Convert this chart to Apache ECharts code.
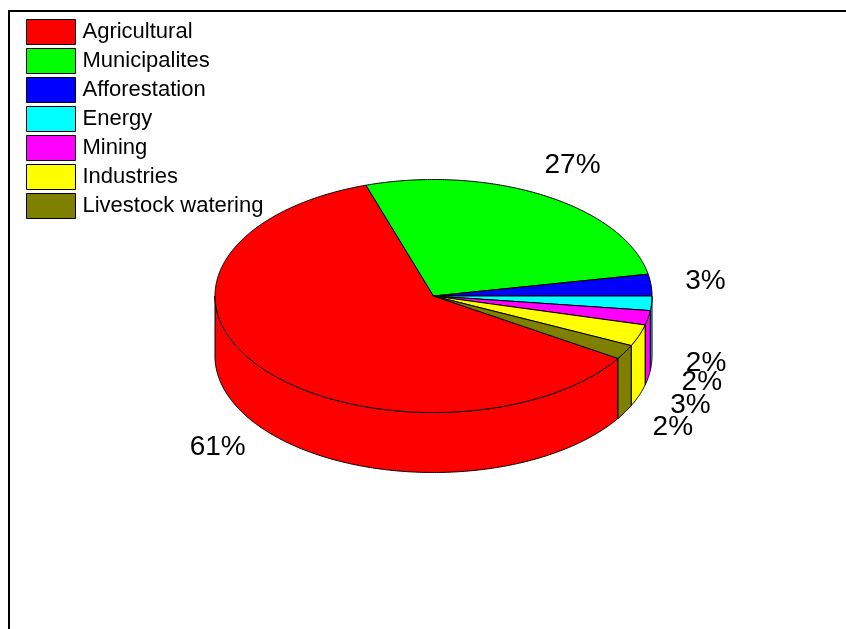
<!DOCTYPE html>
<html>
<head>
<meta charset="utf-8">
<title>Water use by sector</title>
<script src="https://cdn.jsdelivr.net/npm/echarts@6/dist/echarts.min.js"></script>
<style>
  html, body { margin: 0; padding: 0; background: #ffffff; }
  #chart { width: 846px; height: 629px; }
</style>
</head>
<body>
<div id="chart"></div>
<script>
// Sector shares (percent)
const categories = ['Agricultural', 'Municipalites', 'Afforestation', 'Energy', 'Mining', 'Industries', 'Livestock watering'];
const shares = [61, 27, 3, 2, 2, 3, 2];
const sliceColors = ['#ff0000', '#00ff00', '#0000ff', '#00ffff', '#ff00ff', '#ffff00', '#808000'];

// Geometry of the tilted (pseudo 3D) pie
const PIE = { cx: 433.5, cy: 296, rx: 218.5, ry: 116.5, depth: 60, startAngle: -32.4 };
const LABEL = { kx: 1.25, ky: 1.3, frontDrop: 58 };
const FONT = 'Arial, "Liberation Sans", sans-serif';

const total = shares.reduce((a, b) => a + b, 0);

// Angular interval [lo, hi] of slice i, laid out clockwise from startAngle
function sliceSpan(i, value) {
  let before = 0;
  for (let k = 0; k < i; k++) before += shares[k];
  const hi = PIE.startAngle - before / total * 360;
  const lo = hi - value / total * 360;
  return [lo, hi];
}

function ellipsePoint(deg, dy) {
  const r = deg * Math.PI / 180;
  return [PIE.cx + PIE.rx * Math.cos(r), PIE.cy - PIE.ry * Math.sin(r) + (dy || 0)];
}

function arcPoints(a, b, dy) {
  const n = Math.max(2, Math.ceil(Math.abs(b - a) / 0.5));
  const pts = [];
  for (let j = 0; j <= n; j++) pts.push(ellipsePoint(a + (b - a) * j / n, dy));
  return pts;
}

// Outer wall: only the part of the rim facing the viewer (sin < 0)
function renderWall(params, api) {
  const i = params.dataIndex;
  const [lo, hi] = sliceSpan(i, api.value(0));
  const color = api.visual('color');
  const children = [];
  for (const k of [-720, -360, 0, 360]) {
    const s = Math.max(lo, -180 + k);
    const e = Math.min(hi, 0 + k);
    if (e - s > 0.01) {
      const top = arcPoints(s, e, 0);
      const bottom = arcPoints(e, s, PIE.depth);
      children.push({
        type: 'polygon',
        shape: { points: top.concat(bottom) },
        style: { fill: color, stroke: '#000', lineWidth: 1 }
      });
    }
  }
  return { type: 'group', children };
}

// Top face of a slice plus its percentage label
function renderTop(params, api) {
  const i = params.dataIndex;
  const value = api.value(0);
  const [lo, hi] = sliceSpan(i, value);
  const color = api.visual('color');
  const pts = [[PIE.cx, PIE.cy]].concat(arcPoints(hi, lo, 0));
  const mid = (lo + hi) / 2 * Math.PI / 180;
  const s = Math.sin(mid);
  const lx = PIE.cx + LABEL.kx * PIE.rx * Math.cos(mid);
  const ly = PIE.cy - LABEL.ky * PIE.ry * s + (s < 0 ? LABEL.frontDrop : 0);
  return {
    type: 'group',
    children: [
      {
        type: 'polygon',
        shape: { points: pts },
        style: { fill: color, stroke: '#000', lineWidth: 1, lineJoin: 'miter' }
      },
      {
        type: 'text',
        z2: 100,
        style: {
          x: lx, y: ly,
          text: Math.round(value / total * 100) + '%',
          fill: '#000',
          font: '28px ' + FONT,
          align: 'center',
          verticalAlign: 'middle'
        }
      }
    ]
  };
}

const sliceData = shares.map((v, i) => ({
  name: categories[i],
  value: [v],
  itemStyle: { color: sliceColors[i] }
}));

const chart = echarts.init(document.getElementById('chart'), null, { renderer: 'canvas' });
chart.setOption({
  animation: false,
  backgroundColor: '#ffffff',
  graphic: [{
    type: 'rect',
    z: -10,
    silent: true,
    shape: { x: 9, y: 11, width: 900, height: 700 },
    style: { fill: 'none', stroke: '#000', lineWidth: 2 }
  }],
  legend: {
    orient: 'vertical',
    left: 26,
    top: 19,
    padding: 0,
    icon: 'rect',
    itemWidth: 49,
    itemHeight: 25,
    itemGap: 3,
    selectedMode: false,
    itemStyle: { borderColor: '#000', borderWidth: 1 },
    textStyle: { fontSize: 22, fontFamily: FONT, color: '#000', padding: [0, 0, 0, 2] },
    data: categories
  },
  series: [
    {
      // legend keys for the sectors
      type: 'pie',
      name: 'sectors',
      radius: [0, 0],
      silent: true,
      label: { show: false },
      labelLine: { show: false },
      emphasis: { disabled: true },
      itemStyle: { borderWidth: 0 },
      data: shares.map((v, i) => ({ name: categories[i], value: v, itemStyle: { color: sliceColors[i] } }))
    },
    {
      type: 'custom',
      name: 'walls',
      coordinateSystem: 'none',
      z: 2,
      silent: true,
      renderItem: renderWall,
      data: sliceData
    },
    {
      type: 'custom',
      name: 'tops',
      coordinateSystem: 'none',
      z: 3,
      silent: true,
      renderItem: renderTop,
      data: sliceData
    }
  ]
});
</script>
</body>
</html>
